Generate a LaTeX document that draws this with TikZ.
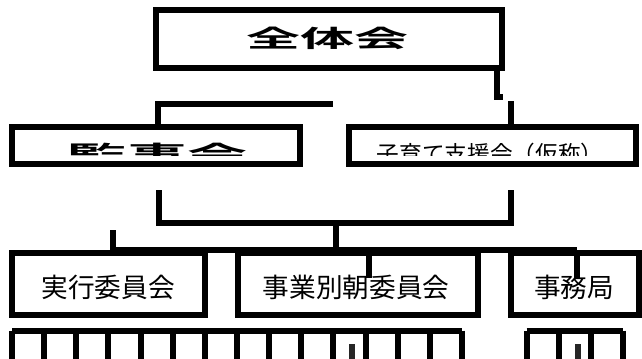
\documentclass[tikz,border=0pt]{standalone}
\usepackage{fontspec}
\usepackage{graphicx}
\newfontfamily\jp{Noto Sans CJK JP}
\newfontfamily\jpb{Noto Sans CJK JP Bold}
\begin{document}
\begin{tikzpicture}[x=0.75pt,y=-0.75pt,
  box/.style={draw=black, line width=4.5pt, inner sep=0pt, outer sep=0pt},
  conn/.style={draw=black, line width=4.5pt},
  tickline/.style={draw=black, line width=4.5pt},
  markline/.style={draw=black!85, line width=4pt},
  bigtxt/.style={inner sep=0pt, font=\jpb\fontsize{18pt}{18pt}\selectfont},
  midtxt/.style={inner sep=0pt, font=\jp\fontsize{17pt}{17pt}\selectfont},
  lowtxt/.style={inner sep=0pt, font=\jp\fontsize{20pt}{20pt}\selectfont}]
\useasboundingbox (0,0) rectangle (642,358);
\fill[white] (0,0) rectangle (642,358);

% top box
\node[box, minimum width=259.5pt, minimum height=43.5pt] (zen) at (329,39) {};
\node[bigtxt] (zent) at (327,38) {\scalebox{2.25}[1]{全体会}};

% second row boxes
\node[box, minimum width=216pt, minimum height=27.75pt] (kan) at (156,145.5) {};
\node[box, minimum width=215.25pt, minimum height=27.75pt] (kod) at (492.5,145.5) {};
\begin{scope}
  \clip (14,129) rectangle (298,155);
  \node[bigtxt] (kant) at (157,154.5) {\scalebox{2.5}[1]{監事会}};
\end{scope}
\begin{scope}
  \clip (351,129) rectangle (634,155);
  \node[midtxt] (kodt) at (490,153.5) {子育て支援会（仮称）};
\end{scope}

% connectors top -> second row
\coordinate (l1) at (158,103.5);
\coordinate (l2) at (333,103.5);
\draw[conn] (l2) -- (l1) -- (l1 |- kan.north);
\coordinate (r1) at (497,68);
\coordinate (r2) at (497,96.5);
\coordinate (r3) at (503,96.5);
\draw[conn] (r1) -- (r2) -- (r3);
\coordinate (r4) at (510.5,101);
\draw[conn] (r4) -- (r4 |- kod.north);

% third row boxes
\node[box, minimum width=144.75pt, minimum height=46.5pt] (jik) at (108.5,284) {};
\node[box, minimum width=180pt, minimum height=46.5pt] (jig) at (358,284) {};
\node[box, minimum width=96pt, minimum height=46.5pt] (jim) at (575,284) {};
\node[lowtxt] (jikt) at (108,287) {実行委員会};
\node[lowtxt] (jigt) at (356,287) {事業別朝委員会};
\node[lowtxt] (jimt) at (574,287) {事務局};

% bracket second row -> third row
\coordinate (b1) at (158.5,190);
\coordinate (b2) at (158.5,222.5);
\coordinate (b3) at (510.5,222.5);
\coordinate (b4) at (510.5,190);
\draw[conn] (b1) -- (b2) -- (b3) -- (b4);
\coordinate (c1) at (335.5,222.5);
\coordinate (c2) at (335.5,250);
\draw[conn] (c1) -- (c2);
\coordinate (h1) at (113,230);
\coordinate (h2) at (113,250);
\coordinate (h3) at (577,250);
\draw[conn] (h1) -- (h2) -- (h3);
\coordinate (s1) at (368.5,250);
\coordinate (s2) at (368.5,278);
\draw[conn] (s1) -- (s2);
\coordinate (s3) at (577,278);
\draw[conn] (h3) -- (s3);

% bottom row combs
\coordinate (g1) at (12,330.5);
\coordinate (g2) at (462,330.5);
\draw[tickline] (g1) -- (g2);
\foreach \k in {0,...,14} {
  \draw[tickline] ({12+450/14*\k},330.5) -- ({12+450/14*\k},362);
}
\coordinate (g3) at (526.5,330.5);
\coordinate (g4) at (623,330.5);
\draw[tickline] (g3) -- (g4);
\foreach \k in {0,...,3} {
  \draw[tickline] ({526.5+96.5/3*\k},330.5) -- ({526.5+96.5/3*\k},362);
}
\draw[markline] (352,344) -- (352,360);
\draw[markline] (578,344) -- (578,360);
\end{tikzpicture}
\end{document}
